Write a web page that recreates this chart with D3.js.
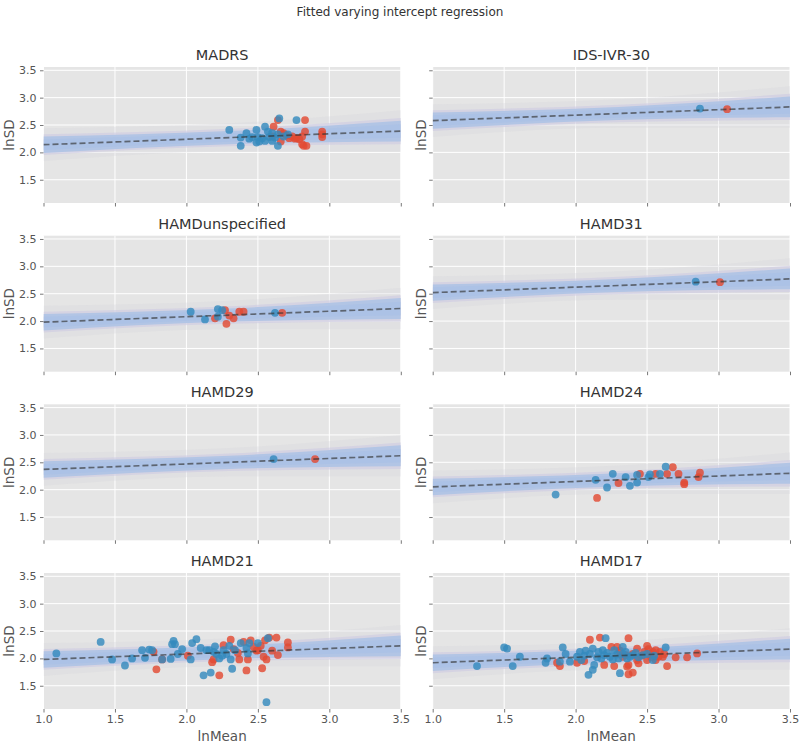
<!DOCTYPE html>
<html><head><meta charset="utf-8">
<script src="https://cdn.jsdelivr.net/npm/d3@7"></script>
<style>body{margin:0;background:#fff}svg{font-family:"DejaVu Sans",sans-serif}</style>
</head><body>
<script>
// ---------- data ----------
const panelNames = ["MADRS","IDS-IVR-30","HAMDunspecified","HAMD31","HAMD29","HAMD24","HAMD21","HAMD17"];
// fitted varying intercepts (lnSD at lnMean = 0) and common slope
const intercepts = [2.04, 2.48, 1.88, 2.42, 2.27, 1.95, 1.88, 1.82];
const slope = 0.1;
// uncertainty band half-widths read at these lnMean knots
const bandKnots = [1.0, 2.3, 3.5];
const bandCore = [0.15, 0.12, 0.19];
const bandFringe = [0.19, 0.16, 0.24];
const bandHaze = [0.30, 0.26, 0.38];
const xTicks = [1.0, 1.5, 2.0, 2.5, 3.0, 3.5];
const yTicks = [1.5, 2.0, 2.5, 3.0, 3.5];

const madrsBlue = [[2.30,2.41],[2.38,2.27],[2.38,2.12],[2.42,2.35],[2.46,2.28],[2.49,2.41],[2.50,2.28],[2.49,2.18],[2.53,2.26],[2.55,2.47],[2.57,2.38],[2.58,2.28],[2.60,2.21],[2.62,2.27],[2.65,2.62],[2.64,2.33],[2.64,2.12],[2.68,2.29],[2.71,2.33],[2.77,2.59],[2.55,2.21],[2.51,2.20],[2.44,2.25],[2.60,2.35]];
const madrsRed = [[2.61,2.47],[2.64,2.59],[2.83,2.59],[2.66,2.38],[2.68,2.35],[2.74,2.29],[2.77,2.26],[2.81,2.29],[2.83,2.38],[2.81,2.15],[2.82,2.12],[2.84,2.12],[2.95,2.38],[2.95,2.28],[2.95,2.33],[2.66,2.20],[2.60,2.29],[2.72,2.26],[2.79,2.24],[2.70,2.31],[2.76,2.25]];
const idsBlue = [[2.87,2.80]];
const idsRed = [[3.06,2.79]];
const hamdUnsBlue = [[2.03,2.17],[2.13,2.03],[2.22,2.22],[2.22,2.08],[2.25,2.20],[2.62,2.15]];
const hamdUnsRed = [[2.20,2.05],[2.27,2.20],[2.30,2.10],[2.28,1.95],[2.33,2.05],[2.37,2.17],[2.40,2.17],[2.67,2.15]];
const hamd31Blue = [[2.84,2.72]];
const hamd31Red = [[3.01,2.71]];
const hamd29Blue = [[2.61,2.56]];
const hamd29Red = [[2.90,2.56]];
const hamd24Blue = [[1.86,1.91],[2.14,2.18],[2.22,2.04],[2.26,2.29],[2.35,2.23],[2.38,2.07],[2.43,2.13],[2.43,2.27],[2.51,2.23],[2.52,2.28],[2.59,2.29],[2.63,2.42]];
const hamd24Red = [[2.15,1.85],[2.30,2.12],[2.45,2.29],[2.56,2.29],[2.64,2.29],[2.68,2.41],[2.72,2.29],[2.76,2.13],[2.76,2.10],[2.86,2.23],[2.87,2.31]];
const hamd21Blue = [[1.09,2.09],[1.40,2.30],[1.48,1.98],[1.57,1.87],[1.62,2.00],[1.69,2.15],[1.71,2.01],[1.74,2.16],[1.76,2.15],[1.83,1.98],[1.89,1.99],[1.90,2.26],[1.91,2.32],[1.92,2.26],[1.94,2.08],[1.97,2.17],[2.03,1.98],[2.04,2.28],[2.07,2.35],[2.10,2.19],[2.12,1.69],[2.14,2.15],[2.17,1.74],[2.19,2.12],[2.20,2.22],[2.21,2.08],[2.23,2.00],[2.26,2.15],[2.28,2.08],[2.30,2.23],[2.31,1.98],[2.32,1.81],[2.34,2.15],[2.38,2.28],[2.42,2.19],[2.43,2.09],[2.44,2.28],[2.50,2.28],[2.57,2.37],[2.56,1.20],[2.25,2.05],[2.16,2.15]];
const hamd21Red = [[1.77,2.12],[1.79,1.80],[1.83,1.98],[2.01,2.05],[2.18,1.93],[2.19,1.98],[2.23,1.69],[2.26,2.24],[2.31,2.34],[2.33,2.17],[2.36,2.10],[2.37,1.98],[2.40,2.30],[2.42,1.78],[2.43,1.98],[2.45,2.33],[2.47,2.21],[2.49,2.14],[2.50,2.15],[2.52,2.23],[2.53,1.82],[2.54,2.03],[2.55,2.33],[2.56,1.98],[2.58,2.38],[2.60,2.14],[2.63,2.38],[2.64,2.06],[2.71,2.29],[2.71,2.20]];
const hamd17Blue = [[1.31,1.86],[1.50,2.20],[1.52,2.18],[1.56,1.86],[1.61,2.03],[1.79,1.92],[1.80,2.00],[1.89,1.94],[1.91,2.20],[1.93,2.08],[1.96,1.94],[2.01,2.03],[2.03,2.12],[2.04,1.97],[2.09,1.70],[2.12,1.79],[2.13,1.88],[2.12,2.18],[2.16,2.12],[2.18,2.00],[2.21,2.37],[2.24,2.03],[2.27,2.15],[2.31,1.73],[2.33,2.21],[2.33,2.08],[2.38,2.03],[2.47,2.06],[2.54,1.97],[2.63,2.20],[2.06,2.05],[2.10,2.08],[2.15,2.02],[2.20,2.06],[2.22,2.10],[2.26,1.98],[2.29,2.07],[2.35,2.12],[2.40,2.06],[2.44,2.02],[2.50,2.08],[2.07,2.14],[2.19,2.15],[2.30,2.00],[2.36,2.00],[2.42,2.10],[2.55,2.05]];
const hamd17Red = [[1.87,1.92],[1.89,1.86],[2.01,1.92],[2.10,2.34],[2.17,2.38],[2.37,2.37],[2.27,1.86],[2.29,2.21],[2.33,2.03],[2.36,1.85],[2.37,1.71],[2.40,1.74],[2.43,1.97],[2.43,2.18],[2.44,1.91],[2.50,2.23],[2.51,2.17],[2.50,1.97],[2.54,2.12],[2.58,2.03],[2.59,2.12],[2.64,1.86],[2.61,2.03],[2.70,2.02],[2.78,2.02],[2.85,2.09],[2.56,1.97],[2.40,2.08],[2.25,2.21],[2.20,1.88],[2.37,1.88],[2.46,2.05],[2.52,2.08],[2.56,2.15],[2.31,2.14],[2.48,2.12],[2.62,2.08],[2.06,1.95],[2.35,2.06],[2.53,2.02]];
const blueSets = [madrsBlue, idsBlue, hamdUnsBlue, hamd31Blue, hamd29Blue, hamd24Blue, hamd21Blue, hamd17Blue];
const redSets = [madrsRed, idsRed, hamdUnsRed, hamd31Red, hamd29Red, hamd24Red, hamd21Red, hamd17Red];

// ---------- layout ----------
const W = 800, H = 745;
const colX = [43.5, 432.7], rowY = [67, 235.7, 404.3, 573];
const pw = 357.3, ph = 136;
const svg = d3.select("body").append("svg").attr("width", W).attr("height", H);

svg.append("text").attr("x", 400).attr("y", 16).attr("text-anchor", "middle")
  .attr("font-size", 12).attr("fill", "#333").text("Fitted varying intercept regression");

const x = d3.scaleLinear().domain([1.0, 3.5]).range([0, pw]);
const y = d3.scaleLinear().domain([1.075, 3.56]).range([ph, 0]);

const fit = (i, v) => intercepts[i] + slope * v;

panelNames.forEach((name, i) => {
  const col = i % 2, row = Math.floor(i / 2);
  const g = svg.append("g").attr("transform", `translate(${colX[col]},${rowY[row]})`);
  const clipId = "clip" + i;
  g.append("clipPath").attr("id", clipId).append("rect").attr("width", pw).attr("height", ph);
  g.append("rect").attr("width", pw).attr("height", ph).attr("fill", "#E5E5E5");
  // grid
  g.selectAll(".gx").data(xTicks).join("line").attr("x1", d => x(d)).attr("x2", d => x(d))
    .attr("y1", 0).attr("y2", ph).attr("stroke", "#fff").attr("stroke-width", 1);
  g.selectAll(".gy").data(yTicks).join("line").attr("y1", d => y(d)).attr("y2", d => y(d))
    .attr("x1", 0).attr("x2", pw).attr("stroke", "#fff").attr("stroke-width", 1);

  const plot = g.append("g").attr("clip-path", `url(#${clipId})`);
  const band = (hw) => d3.area()
    .x(d => x(d[0]))
    .y0(d => y(fit(i, d[0]) - d[1]))
    .y1(d => y(fit(i, d[0]) + d[1]))
    .curve(d3.curveMonotoneX)(bandKnots.map((k, j) => [k, hw[j]]));
  plot.append("path").attr("d", band(bandHaze)).attr("fill", "#d4d4da").attr("opacity", 0.3);
  plot.append("path").attr("d", band(bandFringe)).attr("fill", "#cdc9e2").attr("opacity", 0.6);
  plot.append("path").attr("d", band(bandCore)).attr("fill", "#b2c5e5");
  plot.append("path").attr("d", band(bandCore.map(v => v * 0.65))).attr("fill", "#a9c0e6").attr("opacity", 0.6);

  // points (red group first, blue on top)
  plot.selectAll(".pr").data(redSets[i]).join("circle")
    .attr("cx", d => x(d[0])).attr("cy", d => y(d[1])).attr("r", 3.9)
    .attr("fill", "#E24A33").attr("fill-opacity", 0.82);
  plot.selectAll(".pb").data(blueSets[i]).join("circle")
    .attr("cx", d => x(d[0])).attr("cy", d => y(d[1])).attr("r", 3.9)
    .attr("fill", "#348ABD").attr("fill-opacity", 0.82);

  // fitted line
  plot.append("line").attr("x1", x(1.0)).attr("x2", x(3.5))
    .attr("y1", y(fit(i, 1.0))).attr("y2", y(fit(i, 3.5)))
    .attr("stroke", "#333").attr("stroke-opacity", 0.65).attr("stroke-width", 1.7)
    .attr("stroke-dasharray", "6,3");

  // axes
  const ya = d3.axisLeft(y).tickValues(yTicks).tickSizeInner(3.5).tickSizeOuter(0).tickPadding(3.5)
    .tickFormat(col === 0 ? d3.format(".1f") : () => "");
  const yg = g.append("g").call(ya);
  const xa = d3.axisBottom(x).tickValues(xTicks).tickSizeInner(3.5).tickSizeOuter(0).tickPadding(2.5)
    .tickFormat(row === 3 ? d3.format(".1f") : () => "");
  const xg = g.append("g").attr("transform", `translate(0,${ph})`).call(xa);
  [yg, xg].forEach(a => {
    a.select(".domain").remove();
    a.selectAll(".tick line").attr("stroke", "#555").attr("stroke-width", 0.8);
    a.selectAll(".tick text").attr("fill", "#555").attr("font-size", 11).attr("font-family", "DejaVu Sans");
  });

  // titles and labels
  g.append("text").attr("x", pw / 2).attr("y", -7).attr("text-anchor", "middle")
    .attr("font-size", 14.5).attr("fill", "#333").text(name);
  g.append("text").attr("transform", `translate(${col === 0 ? -30 : -6.7},${ph / 2}) rotate(-90)`)
    .attr("text-anchor", "middle").attr("font-size", 13.5).attr("fill", "#555").text("lnSD");
  if (row === 3) {
    g.append("text").attr("x", pw / 2).attr("y", ph + 32).attr("text-anchor", "middle")
      .attr("font-size", 13.5).attr("fill", "#555").text("lnMean");
  }
});
</script>
</body></html>
